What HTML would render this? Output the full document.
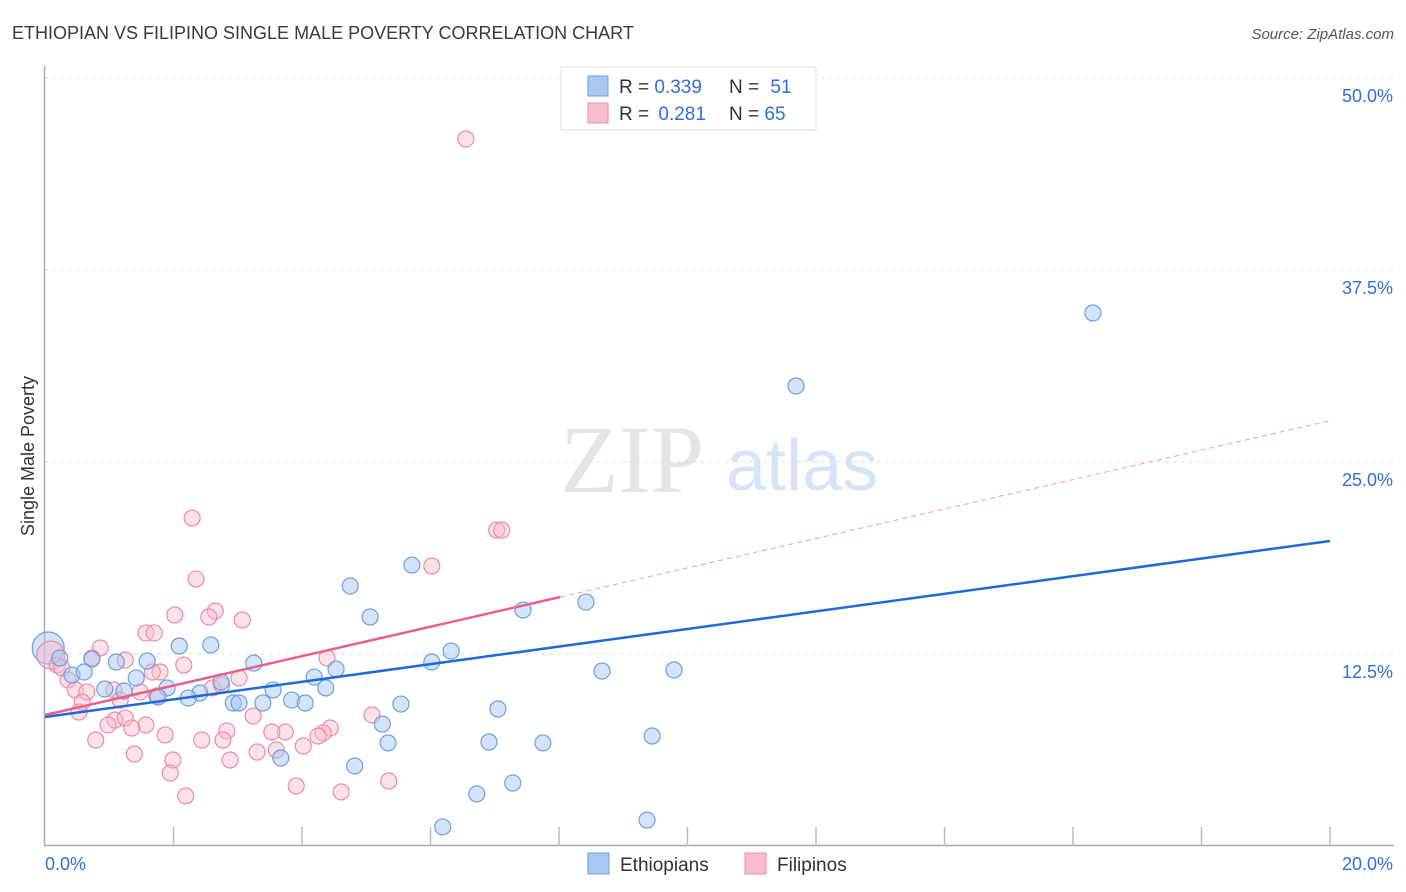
<!DOCTYPE html>
<html><head><meta charset="utf-8"><style>
body{margin:0;background:#fff;font-family:"Liberation Sans",sans-serif}
svg{display:block}
</style></head><body>
<svg width="1406" height="892" xmlns="http://www.w3.org/2000/svg">
<text x="12" y="39" font-size="18" fill="#3a3a3a">ETHIOPIAN VS FILIPINO SINGLE MALE POVERTY CORRELATION CHART</text>
<text x="1394" y="39" font-size="15" font-style="italic" fill="#555" text-anchor="end">Source: ZipAtlas.com</text>
<text x="632" y="492" font-size="96" font-family="Liberation Serif,serif" fill="#e4e4e4" text-anchor="middle">ZIP</text>
<text x="802" y="490" font-size="72" fill="#d6e4f5" text-anchor="middle">atlas</text>
<g id="grid"></g>
<g id="axes"></g>
<g id="pts"></g>
<g id="lines"></g>
<text transform="translate(34,456) rotate(-90)" font-size="18" fill="#333" text-anchor="middle">Single Male Poverty</text>
<g>
<rect x="561" y="67" width="255" height="63" fill="#fff" stroke="#ddd"/>
<rect x="588" y="76" width="20" height="20" fill="#a9c8f0" stroke="#6d9fe0"/>
<rect x="588" y="103" width="20" height="20" fill="#f7bccd" stroke="#ec8aa8"/>
<text x="619" y="93" font-size="19" fill="#333">R = <tspan fill="#2f6fd6">0.339</tspan></text>
<text x="729" y="93" font-size="19" fill="#333">N = <tspan fill="#2f6fd6" dx="6">51</tspan></text>
<text x="619" y="120" font-size="19" fill="#333">R = <tspan fill="#2f6fd6" dx="4">0.281</tspan></text>
<text x="729" y="120" font-size="19" fill="#333">N = <tspan fill="#2f6fd6">65</tspan></text>
</g>
<g>
<rect x="588" y="853" width="21" height="21" fill="#a9c8f0" stroke="#6d9fe0"/>
<text x="620" y="871" font-size="19" fill="#333">Ethiopians</text>
<rect x="745" y="853" width="21" height="21" fill="#f7bccd" stroke="#ec8aa8"/>
<text x="777" y="871" font-size="19" fill="#333">Filipinos</text>
</g>
</svg>
<script>
const yTicks=[12.5,25.0,37.5,50.0];
const yTickLabels=["12.5%","25.0%","37.5%","50.0%"];
const xTicks=[0,2,4,6,8,10,12,14,16,18,20];
const ethX=[16.31,11.69,5.71,4.75,8.42,7.44,5.06,2.09,2.58,6.32,6.02,8.67,9.79,3.25,4.53,4.19,1.59,1.11,0.73,0.23,0.42,0.61,1.42,1.90,0.93,1.23,2.74,3.55,4.37,2.41,2.23,1.76,2.93,3.02,3.39,3.84,4.05,5.54,7.05,5.25,5.34,6.91,7.75,9.45,3.67,4.82,7.28,6.72,6.19,9.37];
const ethY=[34.70,29.95,18.29,16.93,15.88,15.36,14.91,13.02,13.09,12.69,11.98,11.39,11.46,11.91,11.52,11.00,12.04,11.98,12.17,12.24,11.13,11.33,10.94,10.29,10.22,10.09,10.68,10.16,10.29,9.96,9.63,9.70,9.31,9.31,9.31,9.50,9.31,9.24,8.92,7.94,6.71,6.77,6.71,7.16,5.73,5.21,4.10,3.39,1.24,1.69];
const filX=[6.55,2.29,7.03,7.11,6.02,2.35,2.65,2.55,2.02,3.07,1.57,1.70,0.86,1.25,0.73,2.16,1.79,1.67,3.02,4.39,0.19,0.26,0.36,0.47,0.65,1.07,0.58,0.53,1.17,1.48,1.74,2.61,2.75,3.24,1.09,1.25,0.98,1.57,1.35,0.79,1.87,2.83,2.44,2.77,3.74,3.53,3.60,4.44,4.33,4.25,5.09,1.39,1.99,2.88,3.30,4.02,1.95,3.91,4.61,5.35,2.19];
const filY=[46.03,21.35,20.57,20.57,18.23,17.38,15.30,14.91,15.04,14.71,13.87,13.87,12.89,12.11,12.24,11.78,11.33,11.33,10.94,12.24,11.78,11.59,10.81,10.16,10.03,10.16,9.37,8.72,9.50,10.03,9.77,10.29,10.48,8.46,8.20,8.33,7.88,7.88,7.68,6.90,7.23,7.49,6.90,6.90,7.42,7.42,6.25,7.68,7.36,7.16,8.53,5.99,5.60,5.60,6.12,6.51,4.75,3.91,3.52,4.23,3.26];
const bigEth=[0.05,12.89];
const bigFil=[0.09,12.43];
const ethLine=[0,8.40,20,19.86];
const filLine=[0,8.53,8.02,16.21];
const filDash=[8.02,16.21,20,27.69];
const NS="http://www.w3.org/2000/svg";
function X(v){return 45+v/20*1285;}
function Y(v){return 846-v/12.5*192;}
function mk(tag,attrs,parent){const e=document.createElementNS(NS,tag);for(const k in attrs)e.setAttribute(k,attrs[k]);document.getElementById(parent).appendChild(e);return e;}
yTicks.forEach((t,i)=>{
 const l=mk('line',{x1:45,x2:1394,y1:Y(t),y2:Y(t),stroke:'#ddd','stroke-dasharray':'4,4'},'grid');
 
 
 const tx=mk('text',{x:1393,y:Y(t)+24,'font-size':18,fill:'#2f6fd6','text-anchor':'end'},'grid');
 tx.textContent=yTickLabels[i];
 
 
});
let ax=mk('line',{x1:44.5,x2:44.5,y1:66,y2:846,stroke:'#aaa','stroke-width':1.5},'axes');


ax=mk('line',{x1:44,x2:1394,y1:845.5,y2:845.5,stroke:'#aaa','stroke-width':1.5},'axes');


xTicks.forEach(t=>{
 if(t===0)return;
 const l=mk('line',{x1:X(t),x2:X(t),y1:827,y2:846,stroke:'#bbb','stroke-width':1.5},'axes');
 
 
});
let t0=mk('text',{x:45,y:870,'font-size':18,fill:'#2f6fd6'},'axes');t0.textContent="0.0%";


let t1=mk('text',{x:1393,y:870,'font-size':18,fill:'#2f6fd6','text-anchor':'end'},'axes');t1.textContent="20.0%";


function dot(x,y,r,fill,stroke,name){
 const c=mk('circle',{cx:X(x),cy:Y(y),r:r,fill:fill,stroke:stroke,'stroke-width':1.2},'pts');
 
 
}
dot(bigEth[0],bigEth[1],16,'rgba(169,200,240,0.5)','#6d9fe0','ethiopian-point-large');
dot(bigFil[0],bigFil[1],14,'rgba(247,188,205,0.5)','#ec8aa8','filipino-point-large');
filX.forEach((x,i)=>dot(x,filY[i],8,'rgba(247,188,205,0.45)','#ec8aa8','filipino-point'));
ethX.forEach((x,i)=>dot(x,ethY[i],8,'rgba(169,200,240,0.5)','#6d9fe0','ethiopian-point'));
let ln=mk('line',{x1:X(ethLine[0]),y1:Y(ethLine[1]),x2:X(ethLine[2]),y2:Y(ethLine[3]),stroke:'#1f6ad6','stroke-width':2.5},'lines');


ln=mk('line',{x1:X(filLine[0]),y1:Y(filLine[1]),x2:X(filLine[2]),y2:Y(filLine[3]),stroke:'#e8608a','stroke-width':2.5},'lines');


ln=mk('line',{x1:X(filDash[0]),y1:Y(filDash[1]),x2:X(filDash[2]),y2:Y(filDash[3]),stroke:'#e8a0b5','stroke-width':1,'stroke-dasharray':'5,4'},'lines');


</script>
</body></html>
